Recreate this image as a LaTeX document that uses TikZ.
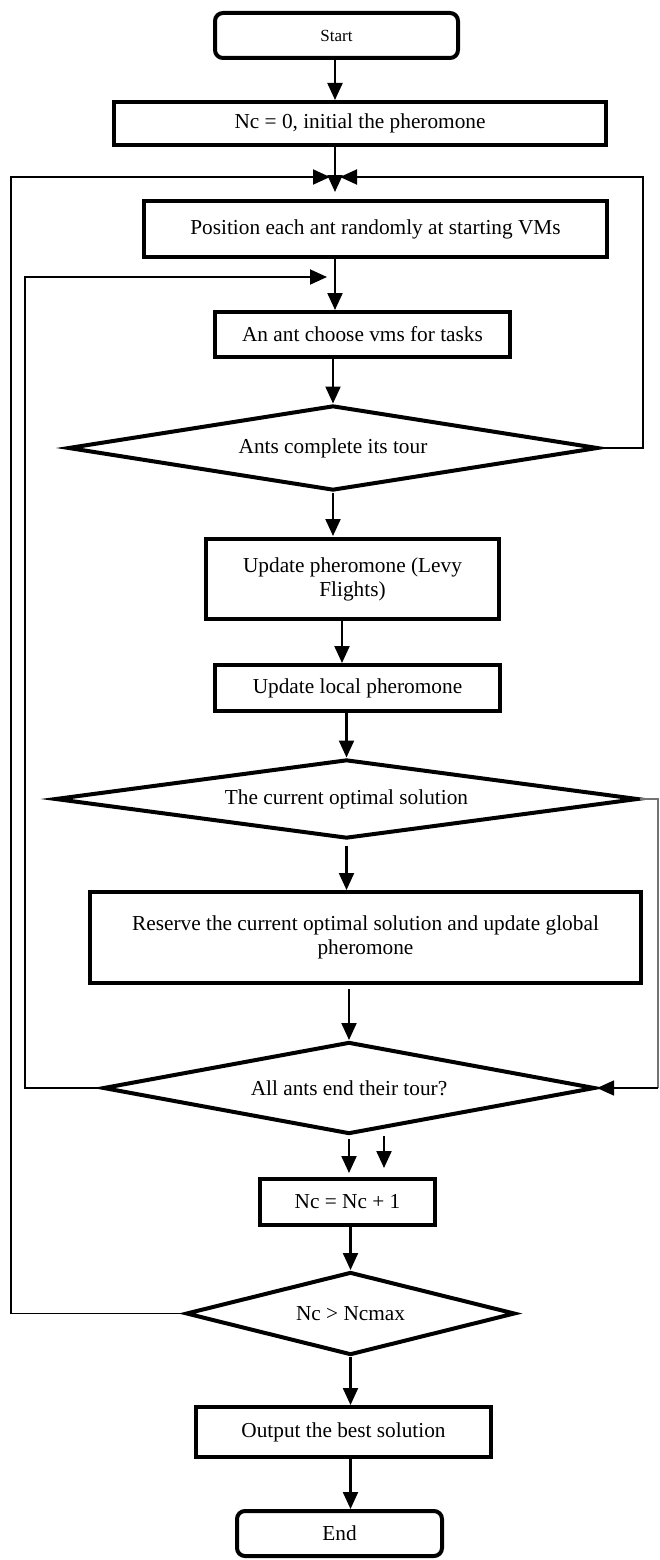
\documentclass[tikz,border=0pt]{standalone}
\usepackage{fontspec}
\setmainfont{Liberation Serif}
\usetikzlibrary{arrows.meta,shapes.geometric}
\begin{document}
\begin{tikzpicture}[x=1pt,y=-1pt,
  box/.style={draw, rectangle, line width=4pt, inner sep=0pt, align=center, font=\fontsize{21.3}{24}\selectfont},
  rbox/.style={box, rounded corners=8pt},
  diam/.style={draw, diamond, line width=4pt, inner sep=0pt, aspect=6, align=center, font=\fontsize{21.3}{24}\selectfont},
  arr/.style={line width=2.2pt, -{Triangle[length=17pt,width=15pt]}},
  looparr/.style={line width=1.9pt, -{Triangle[length=17pt,width=15pt]}},
  thinline/.style={line width=1.2pt, draw=black!55},
]
\fill[white] (0,0) rectangle (659,1560);
\useasboundingbox (0,0) rectangle (659,1560);

% nodes
\node[rbox, minimum width=243, minimum height=45, font=\fontsize{17}{20}\selectfont] (start) at (336.5,35.5) {Start};
\node[box, minimum width=492, minimum height=43] (init) at (360,123.5) {Nc = 0, initial the pheromone};
\node[box, minimum width=463, minimum height=56] (pos) at (375.5,229) {Position each ant randomly at starting VMs};
\node[box, minimum width=295, minimum height=45] (ant) at (362.5,334.5) {An ant choose vms for tasks};
\node[diam, minimum width=530, minimum height=85] (d1) at (333,448) {Ants complete its tour};
\node[box, minimum width=293, minimum height=80] (upd) at (352.5,579) {Update pheromone (Levy\\Flights)};
\node[box, minimum width=285, minimum height=46] (loc) at (357.5,688) {Update local pheromone};
\node[diam, minimum width=583, minimum height=79] (d2) at (346.5,799) {The current optimal solution};
\node[box, minimum width=551, minimum height=91] (res) at (365.5,937.5) {Reserve the current optimal solution and update global\\pheromone};
\node[diam, minimum width=492, minimum height=92] (d3) at (349,1088) {All ants end their tour?};
\node[box, minimum width=175, minimum height=46] (inc) at (347.5,1202) {Nc = Nc + 1};
\node[diam, minimum width=329, minimum height=83] (d4) at (350.5,1313.5) {Nc > Ncmax};
\node[box, minimum width=295, minimum height=50] (out) at (343.5,1432) {Output the best solution};
\node[rbox, minimum width=205, minimum height=45] (end) at (339.5,1533.5) {End};

% helper coordinates
\coordinate (j1) at (335,177);
\coordinate (lo) at (11,177);
\coordinate (ro) at (643,177);
\coordinate (j2) at (335,277);
\coordinate (li) at (25,277);
\coordinate (c2) at (342,0);
\coordinate (c5) at (384,0);
\coordinate (rr) at (658,0);

% main flow
\draw[arr] (start.south -| j1) -- (init.north -| j1);
\draw[arr, shorten >=7pt] (init.south -| j1) -- (pos.north -| j1);
\draw[arr] (pos.south -| j1) -- (ant.north -| j1);
\draw[arr] (ant.south -| d1.north) -- (d1.north);
\draw[arr, shorten >=1pt] (d1.south) -- (d1.south |- upd.north);
\draw[arr] (upd.south -| c2) -- (loc.north -| c2);
\draw[arr] (loc.south -| d2.north) -- (d2.north);
\draw[arr, shorten <=5pt] (d2.south) -- (d2.south |- res.north);
\draw[arr, shorten <=4pt] (res.south -| d3.north) -- (d3.north);
\draw[arr, shorten <=3pt, shorten >=4pt] (d3.south) -- (d3.south |- inc.north);
\draw[arr, shorten >=9pt] (d3.south -| c5) -- (inc.north -| c5);
\draw[arr] (inc.south -| d4.north) -- (d4.north);
\draw[arr] (d4.south) -- (d4.south |- out.north);
\draw[arr] (out.south -| d4.south) -- (end.north -| d4.south);

% loops
\draw[looparr] (d4.west) -| (lo) -- ([xshift=-5pt]j1);
\draw[looparr] (d1.east) -| (ro) -- ([xshift=5pt]j1);
\draw[looparr] (d3.west) -| (li) -- ([xshift=-8pt]j2);
\draw[thinline] (d2.east) -| (rr |- d3.east);
\draw[line width=1.5pt, -{Triangle[length=17pt,width=15pt]}] (rr |- d3.east) -- (d3.east);
\end{tikzpicture}
\end{document}
